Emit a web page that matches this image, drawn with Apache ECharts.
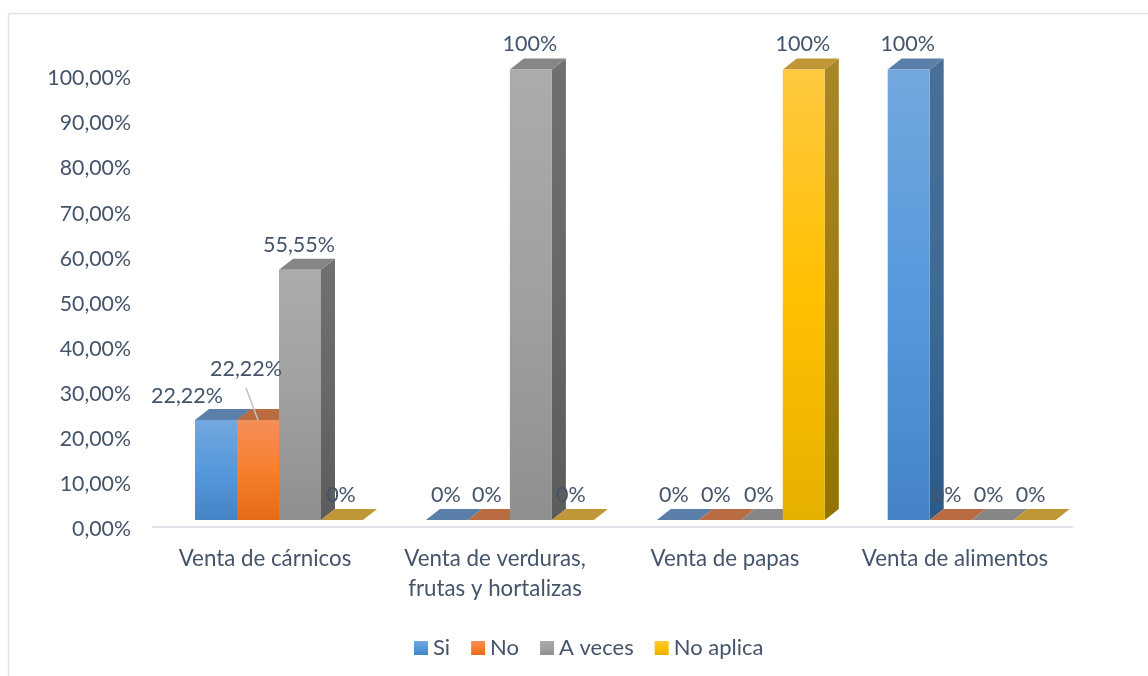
<!DOCTYPE html>
<html>
<head>
<meta charset="utf-8">
<style>
  html, body { margin: 0; padding: 0; background: #fff; }
  #chart { width: 1148px; height: 676px; }
</style>
<script src="https://cdn.jsdelivr.net/npm/echarts@6/dist/echarts.min.js"></script>
</head>
<body>
<div id="chart"></div>
<script>
const categories = ['Venta de cárnicos', 'Venta de verduras,\nfrutas y hortalizas', 'Venta de papas', 'Venta de alimentos'];
const siValues = [22.22, 0, 0, 100];
const noValues = [22.22, 0, 0, 0];
const aVecesValues = [55.55, 100, 0, 0];
const noAplicaValues = [0, 0, 100, 0];
const yTicks = { min: 0, max: 100, interval: 10 };

const TEXT = '#44546A';
const FONT = 'Lato';
const DX = 14, DY = 11;       // profundidad del efecto 3D
const BAR_W = 42;
const SHIFT = 14;             // las barras quedan corridas respecto a la etiqueta
const SHIFT_STEP = 0.9;       // y se separan un poco mas que las etiquetas
const LIFT = 9;               // el suelo 3D queda por encima de la marca del eje

function grad(a, b, c) {
  return { type: 'linear', x: 0, y: 0, x2: 0, y2: 1, colorStops: [
    { offset: 0, color: a }, { offset: 0.5, color: b }, { offset: 1, color: c }
  ] };
}

const palette = [
  { front: grad('#73a7de', '#5599dc', '#4484c6'), top: '#5a7fa8', side: grad('#4a6f96', '#3f6a96', '#2c5a88') },
  { front: grad('#f48f58', '#f67f2d', '#e36b19'), top: '#b96c41', side: '#a85a2a' },
  { front: grad('#ababab', '#a0a0a0', '#8f8f8f'), top: '#868686', side: grad('#707070', '#686868', '#5c5c5c') },
  { front: grad('#ffc840', '#ffc000', '#e6b000'), top: '#c09736', side: grad('#a88629', '#a07c10', '#917300') }
];

// ajustes de las etiquetas que no van en su sitio normal: "serie-categoria"
const labelOffsets = {
  '0-0': [-29, -24],
  '1-0': [-12, -51],
  '0-1': [-1, -25], '1-1': [-2, -25], '3-1': [-2, -25],
  '0-2': [-4, -25], '1-2': [-4, -25], '2-2': [-3, -25],
  '1-3': [-4, -25], '2-3': [-4, -25], '3-3': [-4, -25]
};

function fmtLabel(v) {
  if (v === 0) return '0%';
  if (v === 100) return '100%';
  return v.toFixed(2).replace('.', ',') + '%';
}

function barItem(seriesPos) {
  return function (params, api) {
    const cat = api.value(0), val = api.value(1);
    const top = api.coord([cat, val]);
    const base = api.coord([cat, 0]);
    const x = top[0] + SHIFT + cat * SHIFT_STEP + (seriesPos - 2) * BAR_W;
    const y0 = base[1] - LIFT, y1 = top[1] - LIFT;
    const col = palette[seriesPos];
    const off = labelOffsets[seriesPos + '-' + cat] || [-1, -25];
    const children = [];

    if (val > 0) {
      children.push({
        type: 'polygon',
        shape: { points: [[x + BAR_W, y1], [x + BAR_W + DX, y1 - DY], [x + BAR_W + DX, y0 - DY], [x + BAR_W, y0]] },
        style: { fill: col.side }
      });
    }
    children.push({
      type: 'polygon',
      shape: { points: [[x, y1], [x + DX, y1 - DY], [x + BAR_W + DX, y1 - DY], [x + BAR_W, y1]] },
      style: { fill: col.top }
    });
    if (val > 0) {
      children.push({
        type: 'rect',
        shape: { x: x, y: y1, width: BAR_W, height: y0 - y1 },
        style: { fill: col.front }
      });
    }
    // linea guia de la etiqueta naranja
    if (seriesPos === 1 && cat === 0) {
      children.push({
        type: 'line',
        z2: 90,
        shape: { x1: x + 9, y1: y1 - 32, x2: x + 21, y2: y1 },
        style: { stroke: '#b8c2d0', lineWidth: 1.5 }
      });
    }
    children.push({
      type: 'text',
      z2: 100,
      style: {
        x: x + BAR_W / 2 + off[0],
        y: y1 + off[1],
        text: fmtLabel(val),
        fill: TEXT,
        font: '21.5px ' + FONT,
        align: 'center',
        verticalAlign: 'middle'
      }
    });
    return { type: 'group', children: children };
  };
}

function makeSeries(name, values, pos) {
  return {
    name: name,
    type: 'custom',
    coordinateSystem: 'cartesian2d',
    clip: false,
    itemStyle: { color: palette[pos].front },
    encode: { x: 0, y: 1 },
    data: values.map((v, i) => [i, v]),
    renderItem: barItem(pos)
  };
}

const chart = echarts.init(document.getElementById('chart'));
chart.setOption({
  animation: false,
  backgroundColor: '#fff',
  textStyle: { fontFamily: FONT },
  grid: { left: 150, width: 920, top: 78.5, height: 450.5, containLabel: false },
  xAxis: {
    type: 'category',
    data: categories,
    axisLine: { show: false },
    axisTick: { show: false },
    axisLabel: { interval: 0, color: TEXT, fontSize: 22.3, fontFamily: FONT, lineHeight: 30, margin: 15 }
  },
  yAxis: {
    type: 'value',
    min: yTicks.min,
    max: yTicks.max,
    interval: yTicks.interval,
    axisLine: { show: false },
    axisTick: { show: false },
    splitLine: { show: false },
    axisLabel: {
      color: TEXT, fontSize: 21.3, fontFamily: FONT, margin: 19,
      formatter: v => v.toFixed(2).replace('.', ',') + '%'
    }
  },
  legend: {
    top: 632,
    left: 409,
    icon: 'rect',
    itemWidth: 14,
    itemHeight: 14,
    itemGap: 21,
    textStyle: { color: TEXT, fontSize: 22, fontFamily: FONT },
    data: ['Si', 'No', 'A veces', 'No aplica']
  },
  graphic: [
    { type: 'line', silent: true, shape: { x1: 8.5, y1: 13.5, x2: 1148, y2: 13.5 }, style: { stroke: '#dfe3e8', lineWidth: 1.5 } },
    { type: 'line', silent: true, shape: { x1: 8.5, y1: 13.5, x2: 8.5, y2: 676 }, style: { stroke: '#dfe3e8', lineWidth: 1.5 } },
    { type: 'line', silent: true, shape: { x1: 152, y1: 527, x2: 1073, y2: 527 }, style: { stroke: '#dfe3e9', lineWidth: 2 } }
  ],
  series: [
    makeSeries('Si', siValues, 0),
    makeSeries('No', noValues, 1),
    makeSeries('A veces', aVecesValues, 2),
    makeSeries('No aplica', noAplicaValues, 3)
  ]
});
</script>
</body>
</html>
